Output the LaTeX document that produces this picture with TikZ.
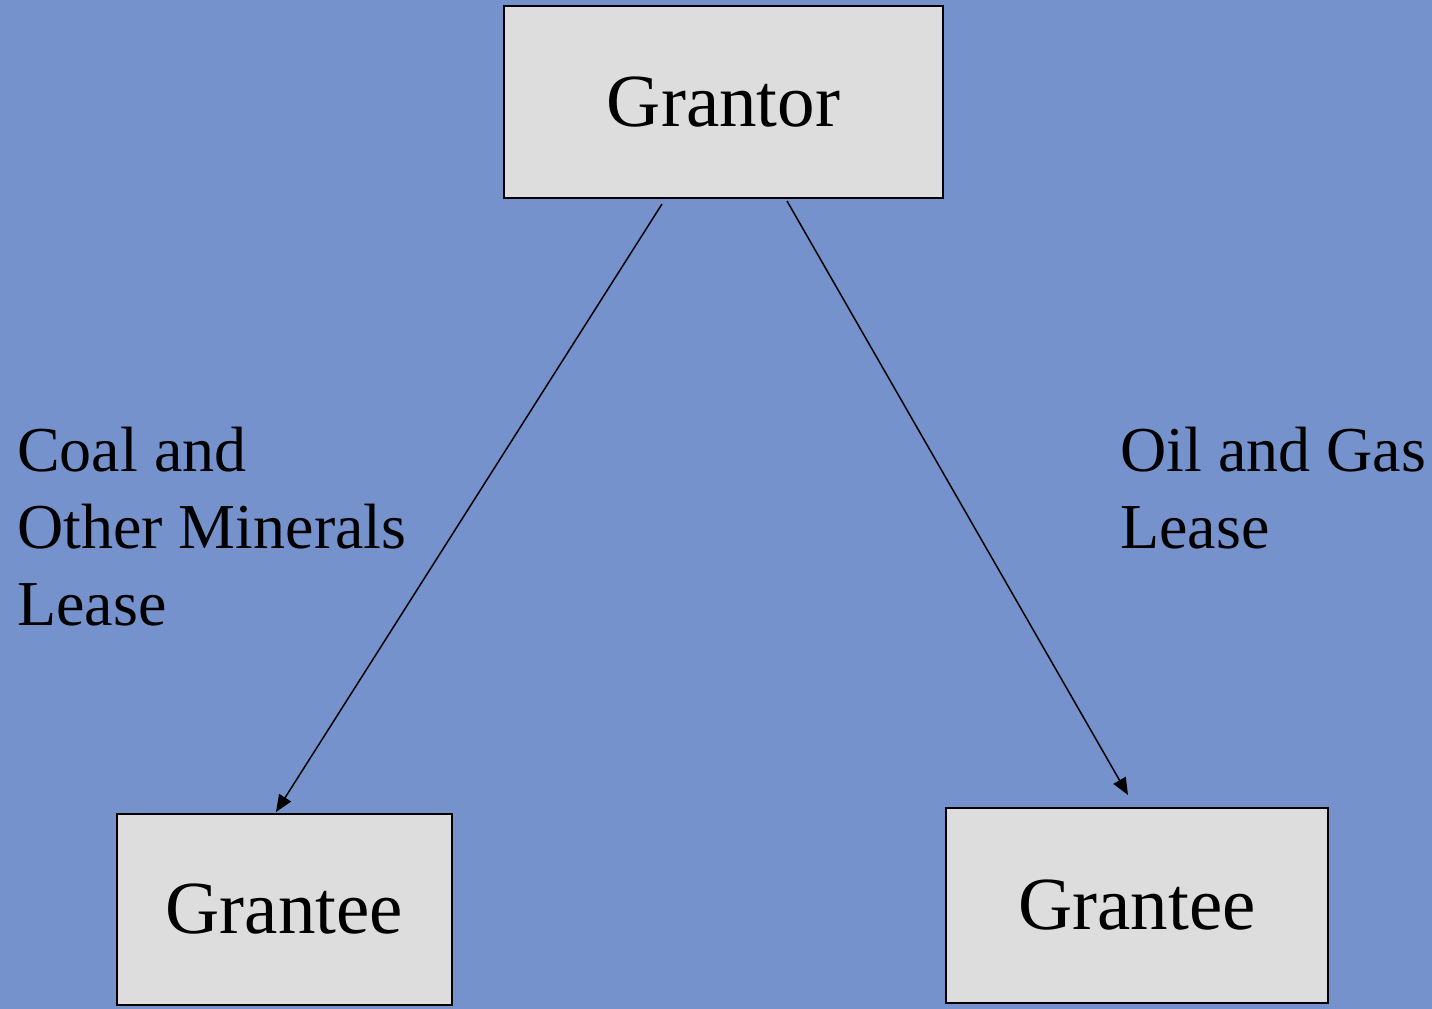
\documentclass[tikz,border=0pt]{standalone}
\usepackage{fontspec}
\setmainfont{Liberation Serif}
\usetikzlibrary{arrows.meta}
\definecolor{bgblue}{RGB}{117,146,205}
\definecolor{boxgray}{RGB}{221,221,221}
\begin{document}
\begin{tikzpicture}[x=1pt,y=-1pt,
  box/.style={draw=black,line width=2pt,fill=boxgray,inner sep=0pt,
    font=\fontsize{75}{86}\selectfont},
  conn/.style={line width=1.5pt,-{Triangle[length=17pt,width=14pt]}},
  lbl/.style={anchor=north west,align=left,inner sep=0pt,
    font=\fontsize{64}{77}\selectfont}]
\fill[bgblue] (0,0) rectangle (1432,1009);
\useasboundingbox (0,0) rectangle (1432,1009);
\node[box,minimum width=439pt,minimum height=192pt] (grantor) at (723.5,102) {\raisebox{-5pt}{Grantor}};
\node[box,minimum width=335pt,minimum height=191pt] (gl) at (284.5,909.5) {\raisebox{-4pt}{Grantee}};
\node[box,minimum width=382pt,minimum height=195pt] (gr) at (1137,905.5) {\raisebox{-4pt}{Grantee}};
\coordinate (ls) at (662,204);
\coordinate (le) at (276,812);
\coordinate (rs) at (787,201);
\coordinate (re) at (1128,795);
\draw[conn] (ls) -- (le);
\draw[conn] (rs) -- (re);
\node[lbl] (coal) at (17,427) {Coal and\\Other Minerals\\Lease};
\node[lbl] (oil) at (1120,427) {Oil and Gas\\Lease};
\end{tikzpicture}
\end{document}
